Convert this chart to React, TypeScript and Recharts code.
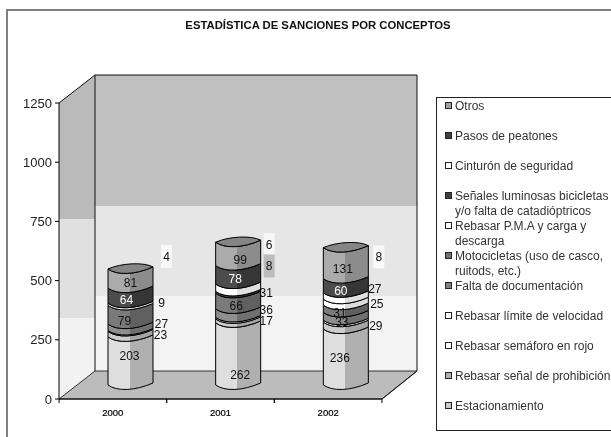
import { Bar, BarChart, LabelList, Legend, XAxis, YAxis } from 'recharts';

const years = ['2000', '2001', '2002'];

const estacionamiento = [203, 262, 236];
const prohibicion = [23, 17, 29];
const semaforo = [4, 6, 8];
const limite = [0, 0, 0];
const documentacion = [27, 36, 33];
const motocicletas = [79, 66, 31];
const pma = [0, 0, 25];
const senales = [0, 8, 0];
const cinturon = [9, 31, 27];
const pasos = [64, 78, 60];
const otros = [81, 99, 131];

const data = years.map((year, i) => ({
    year,
    est: estacionamiento[i],
    pro: prohibicion[i],
    sem: semaforo[i],
    lim: limite[i],
    doc: documentacion[i],
    mot: motocicletas[i],
    pma: pma[i],
    sen: senales[i],
    cin: cinturon[i],
    pas: pasos[i],
    otr: otros[i],
}));

// bottom of the stack first, legend reads the other way round
const series = [
    { key: 'est', name: 'Estacionamiento', light: '#dedede', dark: '#b0b0b0', swatch: '#c8c8c8' },
    { key: 'pro', name: 'Rebasar señal de prohibición', light: '#cccccc', dark: '#a4a4a4', swatch: '#b0b0b0' },
    { key: 'sem', name: 'Rebasar semáforo en rojo', light: '#ffffff', dark: '#d8d8d8', swatch: '#ffffff' },
    { key: 'lim', name: 'Rebasar límite de velocidad', light: '#ffffff', dark: '#d8d8d8', swatch: '#ffffff' },
    { key: 'doc', name: 'Falta de documentación', light: '#8e8e8e', dark: '#707070', swatch: '#808080' },
    { key: 'mot', name: 'Motocicletas (uso de casco, ruitods, etc.)', light: '#7a7a7a', dark: '#606060', swatch: '#707070' },
    { key: 'pma', name: 'Rebasar P.M.A y carga y descarga', light: '#ffffff', dark: '#dcdcdc', swatch: '#ffffff' },
    { key: 'sen', name: 'Señales luminosas bicicletas y/o falta de catadióptricos', light: '#484848', dark: '#383838', swatch: '#404040' },
    { key: 'cin', name: 'Cinturón de seguridad', light: '#ffffff', dark: '#e0e0e0', swatch: '#ffffff' },
    { key: 'pas', name: 'Pasos de peatones', light: '#4c4c4c', dark: '#363636', swatch: '#404040' },
    { key: 'otr', name: 'Otros', light: '#ababab', dark: '#8c8c8c', swatch: '#a0a0a0' },
];

// labels were dragged around in the original, so each one gets a nudge from the middle of its segment
const labelNudge: Record<string, number[][]> = {
    est: [[-1, -5], [2, 21], [-6, 1]],
    pro: [[30, 1], [28, 0], [30, 0]],
    sem: [[36, -74], [31, -73], [33, -64]],
    lim: [[0, 0], [0, 0], [0, 0]],
    doc: [[31, -3], [28, -3], [-4, 6]],
    mot: [[-6, 6], [-2, 5], [-6, 4]],
    pma: [[0, 0], [0, 0], [31, 2]],
    sen: [[0, 0], [31, -26], [0, 0]],
    cin: [[31, -1], [28, 5], [29, -7]],
    pas: [[-4, 4], [-3, 4], [-5, 5]],
    otr: [[0, 4], [2, 6], [-3, 6]],
};

const labelBox: Record<string, string> = { sem: '#f8f8f8', sen: '#bcbcbc' };

const DEPTH_X = 18;
const DEPTH_Y = -14;
const font = '"Liberation Sans", Arial, sans-serif';

const frontCurve = (x: number, w: number, y: number) =>
    `C ${x + w * 0.2} ${y + 6.5} ${x + w * 0.6} ${y + 6} ${x + w} ${y - 2}`;

const Cylinder = (props: any) => {
    const { x, y, width, height, id, top } = props;
    if (!height || height <= 0) return null;
    const left = x + DEPTH_X;
    const yTop = y + DEPTH_Y;
    const yBottom = yTop + height;
    const w = width;
    const body =
        `M ${left} ${yTop} ${frontCurve(left, w, yTop)} L ${left + w} ${yBottom - 2} ` +
        `C ${left + w * 0.6} ${yBottom + 6} ${left + w * 0.2} ${yBottom + 6.5} ${left} ${yBottom} Z`;
    return (
        <g>
            <path d={body} fill={`url(#cyl-${id})`} stroke="#000" strokeWidth={1} />
            {top && (
                <path
                    d={`M ${left} ${yTop} ${frontCurve(left, w, yTop)} C ${left + w * 0.8} ${yTop - 7} ${left + w * 0.3} ${yTop - 6} ${left} ${yTop} Z`}
                    fill="#858585"
                    stroke="#000"
                    strokeWidth={1}
                />
            )}
        </g>
    );
};

const SegmentLabel = (props: any) => {
    const { x, y, width, height, value, index, seriesKey } = props;
    if (!value) return null;
    const [dx, dy] = labelNudge[seriesKey][index];
    const cx = x + width / 2 + DEPTH_X + dx;
    const cy = y + height / 2 + DEPTH_Y + dy;
    const box = labelBox[seriesKey];
    return (
        <g>
            {box && <rect x={cx - 5.5} y={cy - 12} width={11} height={23} fill={box} />}
            <text
                x={cx}
                y={cy}
                textAnchor="middle"
                dominantBaseline="central"
                fontFamily={font}
                fontSize={12}
                fill={seriesKey === 'pas' ? '#fff' : '#111'}
            >
                {value}
            </text>
        </g>
    );
};

const YearTick = (props: any) => {
    const { x, y, payload } = props;
    const half = 53.8;
    return (
        <g>
            <line x1={x - half} x2={x - half} y1={y - 8} y2={y - 4} stroke="#000" />
            <line x1={x + half} x2={x + half} y1={y - 8} y2={y - 4} stroke="#000" />
            <text x={x} y={y + 9} textAnchor="middle" fontFamily={font} fontSize={9.5} fill="#000" stroke="#000" strokeWidth={0.2}>
                {payload.value}
            </text>
        </g>
    );
};

const SanctionLegend = () => (
    <div
        style={{
            width: 175,
            height: 334,
            border: '1px solid #222',
            borderRight: 'none',
            boxSizing: 'border-box',
            background: '#fff',
            paddingTop: 1,
            fontFamily: font,
            fontSize: 12,
            lineHeight: '14.6px',
            color: '#333',
        }}
    >
        {[...series].reverse().map((s) => (
            <div key={s.key} style={{ height: 30, position: 'relative', paddingLeft: 18 }}>
                <span
                    style={{
                        position: 'absolute',
                        left: 8,
                        top: 3,
                        width: 5,
                        height: 5,
                        border: '1px solid #222',
                        background: s.swatch,
                    }}
                />
                {s.name}
            </div>
        ))}
    </div>
);

// static 3d box behind the chart: walls, floor, title and the grey frame
const Backdrop = () => (
    <svg width={611} height={437} style={{ position: 'absolute', left: 0, top: 0 }}>
        <path d="M 7 437 V 10 H 611" fill="none" stroke="#808080" strokeWidth={2} />
        <text x={318} y={29} textAnchor="middle" fontFamily={font} fontSize={11.3} fontWeight={700} fill="#111">
            ESTADÍSTICA DE SANCIONES POR CONCEPTOS
        </text>
        <polygon points="59,103 95,75 95,219 59,219" fill="#bababa" />
        <polygon points="59,219 95,219 95,318 59,318" fill="#e0e0e0" />
        <polygon points="59,318 95,318 95,371 59,399" fill="#f2f2f2" />
        <rect x={95} y={75} width={322} height={131} fill="#c0c0c0" />
        <rect x={95} y={206} width={322} height={90} fill="#e6e6e6" />
        <rect x={95} y={296} width={322} height={75} fill="#f3f3f3" />
        <polygon points="59,399 95,371 417,371 382,399" fill="#bcbcbc" stroke="#333" />
        <path d="M 59 103 L 95 75 H 417 V 371 L 382 399 M 95 75 V 371" fill="none" stroke="#111" />
    </svg>
);

export default function App() {
    return (
        // the reference is a soft, resampled scan, a touch of blur gets the same edges
        <div style={{ position: 'absolute', left: 0, top: 0, width: 611, height: 437, background: '#fff', filter: 'blur(0.35px)' }}>
            <Backdrop />
            <div style={{ position: 'absolute', left: 0, top: 0 }}>
                <BarChart
                    width={611}
                    height={437}
                    data={data}
                    barSize={45}
                    margin={{ top: 103, right: 54, bottom: 8, left: 0 }}
                >
                    <defs>
                        {series.map((s) => (
                            <linearGradient key={s.key} id={`cyl-${s.key}`} x1="0" x2="1" y1="0" y2="0">
                                <stop offset="48%" stopColor={s.light} />
                                <stop offset="48%" stopColor={s.dark} />
                            </linearGradient>
                        ))}
                    </defs>
                    <XAxis dataKey="year" height={30} tickLine={false} axisLine={{ stroke: '#000' }} tick={<YearTick />} interval={0} />
                    <YAxis
                        width={59}
                        domain={[0, 1250]}
                        ticks={[0, 250, 500, 750, 1000, 1250]}
                        tickSize={4}
                        tickMargin={3}
                        axisLine={{ stroke: '#000' }}
                        tickLine={{ stroke: '#000' }}
                        tick={{ fontFamily: font, fontSize: 13, fill: '#222' }}
                    />
                    <Legend
                        layout="vertical"
                        align="right"
                        verticalAlign="top"
                        width={175}
                        content={<SanctionLegend />}
                        wrapperStyle={{ left: 436, top: 97, right: 'auto' }}
                    />
                    {series.map((s) => (
                        <Bar
                            key={s.key}
                            dataKey={s.key}
                            name={s.name}
                            stackId="a"
                            isAnimationActive={false}
                            fill={s.swatch}
                            shape={<Cylinder id={s.key} top={s.key === 'otr'} />}
                        >
                            <LabelList dataKey={s.key} content={<SegmentLabel seriesKey={s.key} />} />
                        </Bar>
                    ))}
                </BarChart>
            </div>
        </div>
    );
}
